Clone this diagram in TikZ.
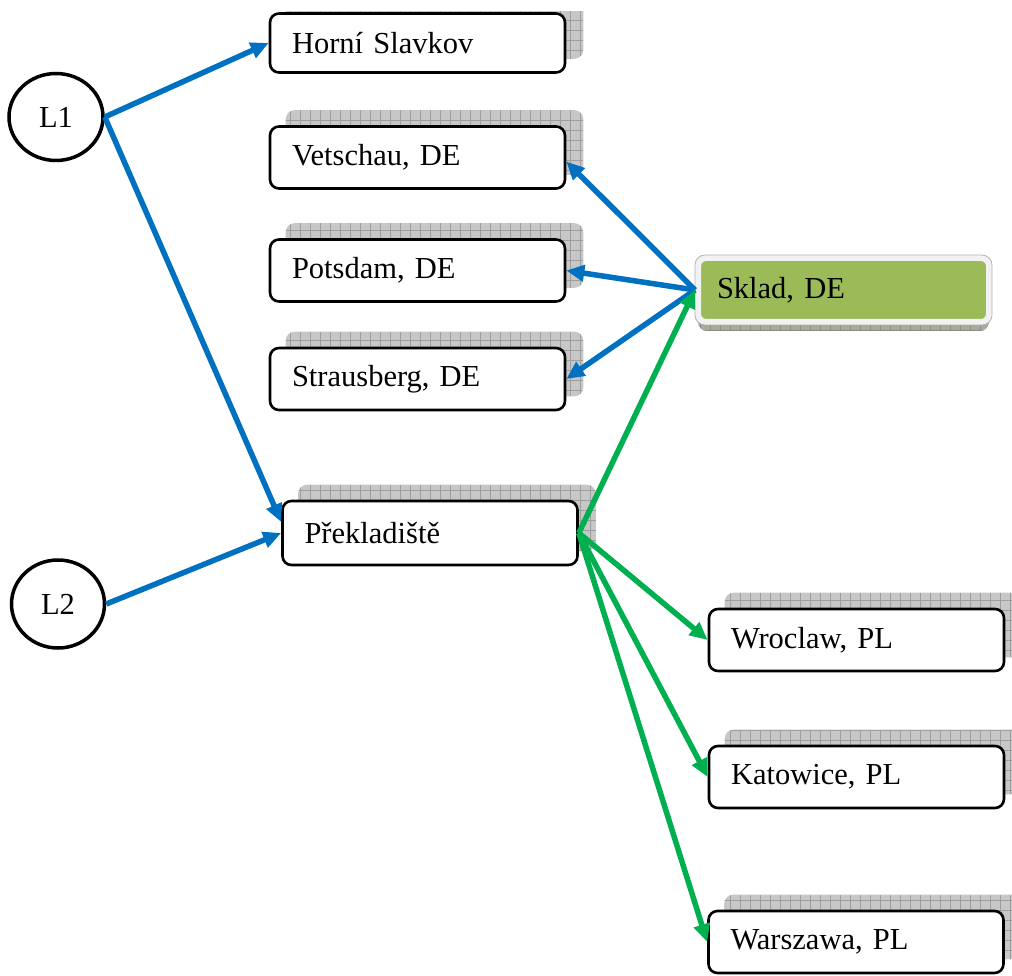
\documentclass[tikz,border=0pt]{standalone}
\usepackage{fontspec}
\setmainfont{Liberation Serif}
\usetikzlibrary{arrows.meta,shapes.geometric,backgrounds}
\definecolor{cblue}{HTML}{0070C0}
\definecolor{cgreen}{HTML}{00B050}
\definecolor{sgreen}{HTML}{9BBB59}
\definecolor{sshadow}{HTML}{A7AD95}
\begin{document}
\begin{tikzpicture}[x=1pt,y=-1pt,
  lbl/.style={font=\fontsize{30.5}{36}\selectfont},
  box/.style={lbl, draw=black, line width=2.6pt, rounded corners=9pt, fill=white,
    text width=251pt, inner xsep=22pt, inner ysep=0pt, minimum height=62pt, align=left},
  oval/.style={lbl, ellipse, draw=black, line width=3.5pt, inner sep=0pt},
  shad/.style={rounded corners=9pt, fill=black!22,
    path picture={\draw[black!38, line width=0.7pt, step=10pt]
      (path picture bounding box.south west) grid (path picture bounding box.north east);}},
  gshad/.style={rounded corners=9pt, fill=sshadow,
    path picture={\draw[black!45, line width=0.7pt, step=10pt]
      (path picture bounding box.south west) grid (path picture bounding box.north east);}},
  barrow/.style={draw=cblue, line width=5.5pt, -{Triangle[length=18pt,width=16pt]}},
  garrow/.style={draw=cgreen, line width=5.5pt, -{Triangle[length=18pt,width=16pt]}}
]
\useasboundingbox (0,0) rectangle (1012,976);

% nodes
\node[box, minimum height=59pt] (hs) at (417.5,43) {Horní Slavkov};
\node[box] (vet) at (417.5,157.5) {Vetschau, DE};
\node[box] (pot) at (417.5,270.5) {Potsdam, DE};
\node[box] (str) at (417.5,379) {Strausberg, DE};
\node[box, minimum height=64pt] (prek) at (430,533) {Překladiště};
\node[box] (wro) at (856.5,640) {Wroclaw, PL};
\node[box] (kat) at (856.5,777) {Katowice, PL};
\node[box] (war) at (856,942) {Warszawa, PL};

\node[lbl, draw=black!5, line width=6pt, fill=sgreen, rounded corners=8pt,
  text width=253pt, inner xsep=19pt, inner ysep=0pt, minimum height=64pt, align=left]
  (sklad) at (843.5,290) {Sklad, DE};
\draw[black!30, line width=0.8pt, rounded corners=10pt] (sklad.north west) rectangle (sklad.south east);

\node[oval, minimum width=94pt, minimum height=87pt] (L1) at (56,117) {L1};
\node[oval, minimum width=93pt, minimum height=88pt] (L2) at (58,604) {L2};

% shadows
\begin{scope}[on background layer]
  \begin{scope}
    \clip (0,12) rectangle (1012,976);
    \path[shad] ([xshift=17pt,yshift=15pt]hs.south west) rectangle ([xshift=17pt,yshift=15pt]hs.north east);
  \end{scope}
  \foreach \n in {vet,pot,str,prek,wro,kat,war}{
    \path[shad] ([xshift=17pt,yshift=15pt]\n.south west) rectangle ([xshift=17pt,yshift=15pt]\n.north east);
  }
  \path[gshad] ([xshift=3pt,yshift=-6pt]sklad.south west) rectangle ([xshift=-3pt,yshift=-6pt]sklad.north east);
\end{scope}

% connectors
\draw[barrow] (L1.east) -- (hs.west);
\draw[barrow] (L1.east) -- ([yshift=11pt]prek.west);
\draw[barrow] (L2.east) -- (prek.west);
\draw[barrow] (sklad.west) -- ([yshift=-4pt]vet.east);
\draw[barrow] (sklad.west) -- (pot.east);
\draw[barrow] (sklad.west) -- (str.east);
\draw[garrow] (prek.east) -- (sklad.west);
\draw[garrow] (prek.east) -- (wro.west);
\draw[garrow] (prek.east) -- (kat.west);
\draw[garrow] (prek.east) -- (war.west);
\end{tikzpicture}
\end{document}
